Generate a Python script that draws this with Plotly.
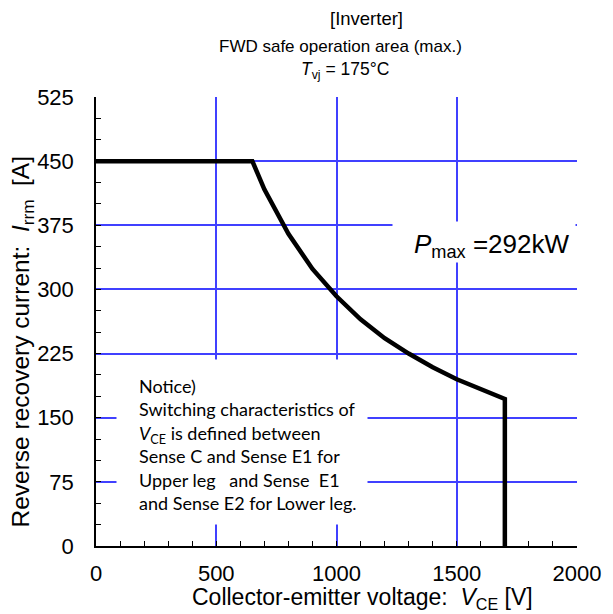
import plotly.graph_objects as go

# SOA curve
vce = [0, 650, 700, 800, 900, 1000, 1100, 1200, 1300, 1400, 1500, 1600, 1700, 1700]
irrm = [450, 450, 417, 365, 324, 292, 265, 243, 225, 209, 195, 183, 172, 0]

x_ticks = [0, 500, 1000, 1500, 2000]
y_ticks = [0, 75, 150, 225, 300, 375, 450, 525]

notice_lines = [
    "Notice)",
    "Switching characteristics of",
    "<i>V</i><sub>CE</sub> is defined between",
    "Sense C and Sense E1 for",
    "Upper leg &nbsp; and Sense &nbsp;E1",
    "and Sense E2 for Lower leg.",
]

title_rows = ["[Inverter]", "FWD safe operation area (max.)", "<i>T</i><sub>vj</sub> = 175°C"]

grid_col = "#4040ff"
font_main = "Liberation Sans, Arial, sans-serif"

# plot box in pixels, used to place the labels
L, R, T, B = 96, 587, 97, 546


def px(x):
    return (x - L) / (R - L)


def py(y):
    return (B - y) / (B - T)


fig = go.Figure()
fig.add_trace(go.Scatter(x=vce, y=irrm, mode="lines",
                         line=dict(color="black", width=4.5),
                         showlegend=False, hoverinfo="skip"))

# white boxes that hide the grid behind the two labels
fig.add_annotation(x=px(245), y=py(442), xref="paper", yref="paper", text=" ",
                   xanchor="center", yanchor="middle",
                   showarrow=False, width=250, height=164, bgcolor="white", borderpad=0)
fig.add_annotation(x=px(492), y=py(242), xref="paper", yref="paper", text=" ",
                   xanchor="center", yanchor="middle",
                   showarrow=False, width=182, height=40, bgcolor="white", borderpad=0)

fig.add_annotation(x=px(138), y=py(444), xref="paper", yref="paper",
                   xanchor="left", yanchor="middle", align="left",
                   text="<br>".join(notice_lines), showarrow=False,
                   font=dict(family="Lato, Open Sans, sans-serif", size=18, color="black"))
fig.add_annotation(x=px(419), y=py(245), xref="paper", yref="paper",
                   xanchor="left", yanchor="middle",
                   text="<i>P</i><sub>max</sub> =292kW", showarrow=False,
                   font=dict(family=font_main, size=26, color="black"))

# title block
for txt, ypix, xpix, fs in zip(title_rows, [19, 46, 71], [372, 346, 350], [18.5, 17, 17.5]):
    fig.add_annotation(x=px(xpix), y=py(ypix), xref="paper", yref="paper",
                       xanchor="center", yanchor="middle", text=txt, showarrow=False,
                       font=dict(family=font_main, size=fs, color="black"))

# axis titles
fig.add_annotation(x=px(368), y=py(598), xref="paper", yref="paper",
                   xanchor="center", yanchor="middle", showarrow=False,
                   text="Collector-emitter voltage: &nbsp;<i>V</i><sub>CE</sub> [V]",
                   font=dict(family=font_main, size=23, color="black"))
fig.add_annotation(x=px(20), y=py(342), xref="paper", yref="paper", textangle=-90,
                   xanchor="center", yanchor="middle", showarrow=False,
                   text="Reverse recovery current: &nbsp;<i>I</i><sub>rrm</sub> &nbsp;[A]",
                   font=dict(family=font_main, size=24.5, color="black"))

fig.update_layout(
    width=613, height=614,
    plot_bgcolor="white", paper_bgcolor="white",
    margin=dict(l=L, r=613 - R, t=T, b=614 - B),
    font=dict(family=font_main, size=22, color="black"),
)

fig.update_xaxes(range=[0, 2000], tickvals=x_ticks, showgrid=True, gridcolor=grid_col,
                 gridwidth=1.6, showline=True, linecolor="black", linewidth=1.5,
                 ticks="inside", ticklen=5, tickcolor="black", zeroline=False,
                 ticklabelstandoff=7, ticklabeloverflow="allow",
                 minor=dict(dtick=100, ticks="inside", ticklen=5, tickcolor="black", showgrid=False))
fig.update_yaxes(range=[0, 525], tickvals=y_ticks, showgrid=True, gridcolor=grid_col,
                 gridwidth=1.6, showline=True, linecolor="black", linewidth=1.5,
                 ticks="inside", ticklen=5, tickcolor="black", zeroline=False,
                 ticklabelstandoff=16, ticklabeloverflow="allow",
                 minor=dict(dtick=25, ticks="inside", ticklen=5, tickcolor="black", showgrid=False))

fig.write_html("out.html", config={"displayModeBar": False},
               post_script="document.body.style.margin='0';")
